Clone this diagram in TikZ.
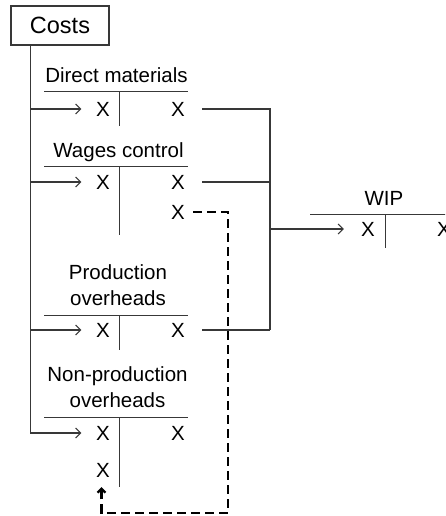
\documentclass[tikz,border=0pt]{standalone}
\usepackage{fontspec}
\setmainfont{Liberation Sans}
\usetikzlibrary{arrows.meta,calc}

\begin{document}
\begin{tikzpicture}[x=1pt,y=-1pt,
  txt/.style={font=\fontsize{20.5}{26}\selectfont, inner sep=0pt, align=center, anchor=base},
  xmark/.style={font=\fontsize{20.5}{26}\selectfont, inner sep=0pt, text height=14.7pt, text depth=0pt},
  rule/.style={draw=black!78, line width=1.2pt},
  flow/.style={rule, -{Straight Barb[length=5pt,width=10pt]}},
  transfer/.style={draw=black, line width=2.3pt, dash pattern=on 9pt off 5pt,
    -{Straight Barb[length=4pt,width=8pt]}},
]
\useasboundingbox (0,0) rectangle (445,516);
\clip (0,0) rectangle (445,516);

% source box and its trunk
\node[rule, minimum width=98pt, minimum height=39pt, inner sep=0pt,
  font=\fontsize{23.5}{26}\selectfont] (costs) at (60,25.5) {Costs};
\coordinate (trunk) at (30.5,45);

% T-account titles (base anchor sits on the last line)
\node[txt] (dmT) at (116.5,83) {Direct materials};
\node[txt] (wcT) at (118.5,157) {Wages control};
\node[txt] (poT) at (118,305) {Production\\overheads};
\node[txt] (npT) at (117.5,407) {Non-production\\overheads};
\node[txt] (wipT) at (384,205) {WIP};

% T-account rules
\draw[rule] (44,91.7) -- (188,91.7) (119.3,91.7) -- (119.3,126);
\draw[rule] (44,166.7) -- (188,166.7) (119.3,166.7) -- (119.3,235);
\draw[rule] (44,315.7) -- (188,315.7) (119.3,315.7) -- (119.3,350);
\draw[rule] (44,417.7) -- (188,417.7) (119.3,417.7) -- (119.3,486.7);
\draw[rule] (310,214.3) -- (450,214.3) (385.5,214.3) -- (385.5,248);

% entries
\node[xmark] (dmL) at (103,109) {X};
\node[xmark] (dmR) at (178,109) {X};
\node[xmark] (wcL) at (103,182) {X};
\node[xmark] (wcR) at (178,182) {X};
\node[xmark] (wcR2) at (178,212) {X};
\node[xmark] (poL) at (103,330) {X};
\node[xmark] (poR) at (178,330) {X};
\node[xmark] (npL) at (103,433) {X};
\node[xmark] (npR) at (178,433) {X};
\node[xmark] (npL2) at (103,470) {X};
\node[xmark] (wipL) at (368,229) {X};
\node[xmark] (wipR) at (444,229) {X};

% postings from costs
\draw[flow, shorten >=14.5pt] (trunk) |- (npL.west);
\draw[flow, shorten >=14.5pt] (dmL.west -| trunk) -- (dmL.west);
\draw[flow, shorten >=14.5pt] (wcL.west -| trunk) -- (wcL.west);
\draw[flow, shorten >=14.5pt] (poL.west -| trunk) -- (poL.west);

% transfers into WIP
\coordinate (coll) at (270,0);
\draw[rule, shorten <=17pt] (dmR.east) -- (dmR.east -| coll) -- (poR.east -| coll);
\draw[rule, shorten <=17pt] (wcR.east) -- (wcR.east -| coll);
\draw[rule, shorten <=17pt] (poR.east) -- (poR.east -| coll);
\draw[flow, shorten >=17pt] (wipL.west -| coll) -- (wipL.west);

% wages charged to non-production overheads
\coordinate (loopR) at (228,513);
\coordinate (loopL) at (101.5,513);
\draw[transfer, shorten <=8pt, shorten >=9.5pt]
  (wcR2.east) -| (loopR) -- (loopL) -- (loopL |- npL2.south);
\end{tikzpicture}
\end{document}
